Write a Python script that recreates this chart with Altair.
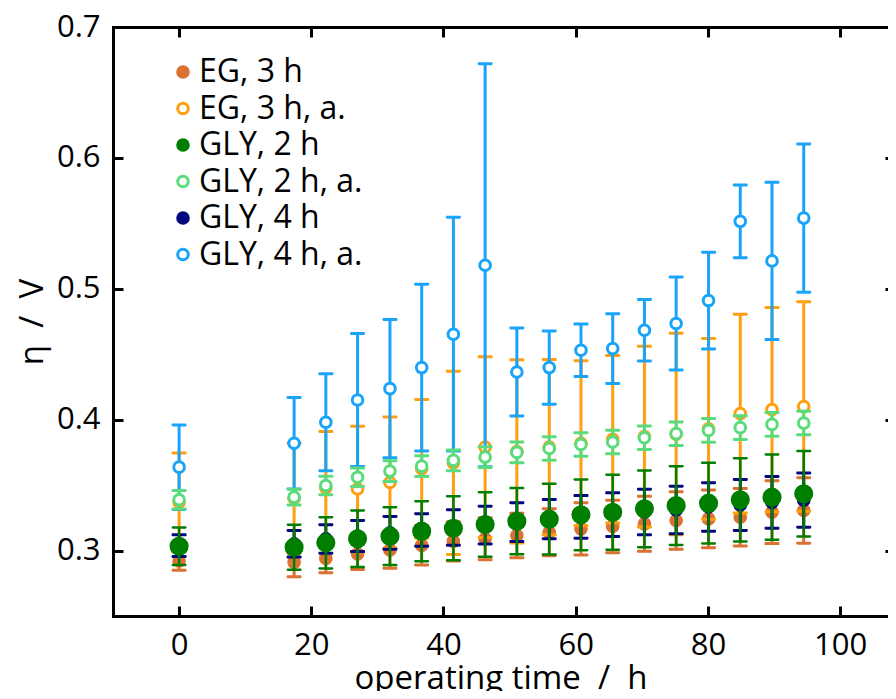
import altair as alt
import pandas as pd

# ---------------- data ----------------
x_hours = [0, 17.4, 22.2, 27.0, 31.9, 36.7, 41.5, 46.3, 51.1, 56.0, 60.8,
           65.6, 70.4, 75.2, 80.1, 84.9, 89.7, 94.5]

series_names = ["EG, 3 h", "EG, 3 h, a.", "GLY, 2 h", "GLY, 2 h, a.",
                "GLY, 4 h", "GLY, 4 h, a."]

eg3_mean = [0.292, 0.291, 0.294, 0.2975, 0.3005, 0.304, 0.307, 0.309, 0.3115,
            0.314, 0.3166, 0.3184, 0.3204, 0.323, 0.3242, 0.3255, 0.3293, 0.3306]
eg3_err = [0.007, 0.011, 0.011, 0.012, 0.014, 0.015, 0.015, 0.016, 0.017,
           0.018, 0.020, 0.020, 0.021, 0.022, 0.022, 0.022, 0.024, 0.025]

eg3a_mean = [0.337, 0.340, 0.348, 0.347, 0.352, 0.3625, 0.367, 0.379, 0.3757,
             0.379, 0.382, 0.385, 0.387, 0.389, 0.393, 0.4046, 0.4077, 0.410]
eg3a_err = [0.0375, 0.042, 0.043, 0.048, 0.050, 0.053, 0.070, 0.069, 0.070,
            0.067, 0.063, 0.064, 0.069, 0.077, 0.069, 0.076, 0.078, 0.080]

gly2_mean = [0.3033, 0.3025, 0.3059, 0.309, 0.311, 0.3148, 0.317, 0.3199, 0.3224,
             0.324, 0.3273, 0.3293, 0.3319, 0.3344, 0.3362, 0.3388, 0.3408, 0.3434]
gly2_err = [0.0143, 0.0172, 0.0196, 0.0216, 0.0221, 0.0229, 0.0245, 0.0247, 0.0253,
            0.027, 0.027, 0.0287, 0.0293, 0.0301, 0.0308, 0.0318, 0.0326, 0.0326]

gly2a_mean = [0.3388, 0.3408, 0.3497, 0.356, 0.3607, 0.3645, 0.3689, 0.3714, 0.375,
              0.378, 0.381, 0.3829, 0.3862, 0.3893, 0.3918, 0.3939, 0.3964, 0.3974]
gly2a_err = [0.007, 0.006, 0.007, 0.007, 0.008, 0.008, 0.008, 0.008, 0.008,
             0.009, 0.009, 0.009, 0.009, 0.009, 0.009, 0.009, 0.009, 0.009]

gly4_mean = [0.3037, 0.3052, 0.3089, 0.3111, 0.3135, 0.3157, 0.3176, 0.3195, 0.3217,
             0.324, 0.3257, 0.3274, 0.3294, 0.331, 0.3333, 0.3348, 0.3368, 0.3385]
gly4_err = [0.0083, 0.0102, 0.0109, 0.0119, 0.0125, 0.0124, 0.0136, 0.0144, 0.0148,
            0.015, 0.0163, 0.0167, 0.0174, 0.0182, 0.0185, 0.0195, 0.0198, 0.0207]

gly4a_mean = [0.3637, 0.382, 0.398, 0.415, 0.4237, 0.4398, 0.4653, 0.518, 0.4364,
              0.4398, 0.453, 0.4543, 0.4683, 0.4735, 0.491, 0.5515, 0.5213, 0.554]
gly4a_err = [0.0323, 0.035, 0.037, 0.0508, 0.0528, 0.0637, 0.0893, 0.154, 0.0336,
             0.028, 0.020, 0.0267, 0.0235, 0.0355, 0.037, 0.0278, 0.060, 0.0566]

x_ticks = [0, 20, 40, 60, 80, 100]
y_ticks = [0.3, 0.4, 0.5, 0.6, 0.7]

means = [eg3_mean, eg3a_mean, gly2_mean, gly2a_mean, gly4_mean, gly4a_mean]
errs = [eg3_err, eg3a_err, gly2_err, gly2a_err, gly4_err, gly4a_err]

# ---------------- styles ----------------
colors = ["#db7232", "#ff9f10", "#007e00", "#5bdc7c", "#03077f", "#19a4fa"]
fills = ["#db7232", "white", "#007e00", "white", "#03077f", "white"]
point_size = {"GLY, 2 h": 260}
bar_width = {"GLY, 2 h": 2.5}
draw_order = ["EG, 3 h", "EG, 3 h, a.", "GLY, 4 h, a.", "GLY, 2 h, a.",
              "GLY, 4 h", "GLY, 2 h"]
FONT = "Open Sans"

rows = []
for name, m, e in zip(series_names, means, errs):
    for xv, mv, ev in zip(x_hours, m, e):
        rows.append({"series": name, "time": xv, "mean": mv,
                     "lo": mv - ev, "hi": mv + ev})
df = pd.DataFrame(rows)

xs = alt.Scale(domain=[-10, 107.25], nice=False, zero=False)
ys = alt.Scale(domain=[0.25, 0.7], nice=False, zero=False)
color_scale = alt.Scale(domain=series_names, range=colors)
fill_scale = alt.Scale(domain=series_names, range=fills)

common = dict(grid=False, labelFont=FONT, labelFontSize=31, labelColor="black",
              titleFont=FONT, titleFontSize=33, titleColor="black",
              titleFontWeight="normal", tickColor="black", tickWidth=3,
              domainColor="black", domainWidth=3, domainCap="square")

# frame lines + labels (no ticks)
x_frame_bottom = alt.Axis(values=x_ticks, orient="bottom", offset=0, ticks=False,
                          domain=True, labelPadding=14,
                          title="operating time\u00a0 /\u00a0 h", titlePadding=2,
                          **common)
y_frame_left = alt.Axis(values=y_ticks, orient="left", offset=0, ticks=False,
                        domain=True, format=".1f", labelPadding=13,
                        title="\u03b7\u00a0 /\u00a0 V", titlePadding=7, **common)
# inward ticks
x_ticks_bottom = alt.Axis(values=x_ticks, orient="bottom", offset=-10, tickSize=10,
                          domain=False, labels=False, title=None, **common)
y_ticks_left = alt.Axis(values=y_ticks, orient="left", offset=-10, tickSize=10,
                        domain=False, labels=False, title=None, **common)
x_frame_top = alt.Axis(values=x_ticks, orient="top", offset=0, ticks=False,
                       domain=True, labels=False, title=None, **common)
y_ticks_right = alt.Axis(values=y_ticks, orient="right", offset=-3, tickSize=10,
                         domain=False, labels=False, title=None, **common)
x_ticks_top = alt.Axis(values=x_ticks, orient="top", offset=-10, tickSize=10,
                       domain=False, labels=False, title=None, **common)

axis_plan = [(x_frame_bottom, y_frame_left), (x_ticks_bottom, y_ticks_left),
             (x_frame_top, y_ticks_right), (x_ticks_top, None)]

legend = alt.Legend(title=None, orient="none", legendX=54, legendY=29,
                    symbolType="circle", symbolSize=113, symbolStrokeWidth=3,
                    labelFont=FONT, labelFontSize=32, labelColor="black",
                    rowPadding=4.5, labelOffset=0, padding=0, labelLimit=400)

layers = []
k = 0


def next_axes():
    global k
    if k < len(axis_plan):
        xa, ya = axis_plan[k]
    else:
        xa, ya = None, None
    k += 1
    return xa, ya


for s in draw_order:
    c = colors[series_names.index(s)]
    base = alt.Chart(df).transform_filter(alt.datum.series == s)
    bw = bar_width.get(s, 3)

    xa, ya = next_axes()
    rule = base.mark_rule(color=c, strokeWidth=bw).encode(
        x=alt.X("time:Q", scale=xs, axis=xa),
        y=alt.Y("lo:Q", scale=ys, axis=ya),
        y2="hi:Q",
    )
    xa, ya = next_axes()
    caps = base.transform_fold(["lo", "hi"], as_=["end", "val"]).mark_tick(
        orient="horizontal", size=15, thickness=bw, color=c, cornerRadius=1.2,
        opacity=1
    ).encode(
        x=alt.X("time:Q", scale=xs, axis=xa),
        y=alt.Y("val:Q", scale=ys, axis=ya),
    )
    pts = base.mark_point(shape="circle", opacity=1, strokeWidth=3,
                          size=point_size.get(s, 113)).encode(
        x=alt.X("time:Q", scale=xs, axis=None),
        y=alt.Y("mean:Q", scale=ys, axis=None),
        color=alt.Color("series:N", scale=color_scale, legend=legend),
        fill=alt.Fill("series:N", scale=fill_scale, legend=legend),
    )
    layers += [rule, caps, pts]

chart = alt.layer(*layers).resolve_axis(
    x="independent", y="independent"
).properties(
    width=775, height=589,
    padding={"left": 105, "top": 19, "right": 0, "bottom": 75},
    autosize=alt.AutoSizeParams(type="none"),
).configure_view(strokeWidth=0)

chart.save("out.html", embed_options={"renderer": "svg", "actions": False})
